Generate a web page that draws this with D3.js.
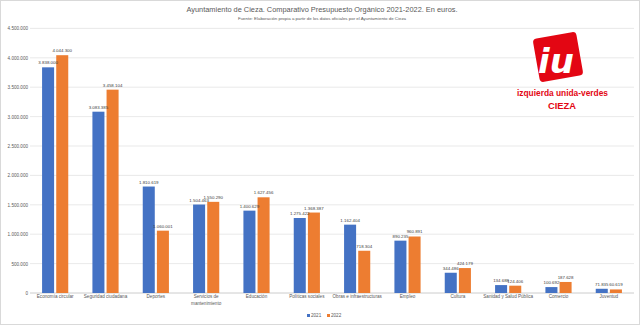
<!DOCTYPE html>
<html><head><meta charset="utf-8">
<script src="https://cdn.jsdelivr.net/npm/d3@7"></script>
<style>body{margin:0;background:#fff}svg{display:block}</style>
</head><body>
<script>
const categories = ["Economía circular","Seguridad ciudadana","Deportes","Servicios de mantenimiento","Educación","Políticas sociales","Obras e infraestructuras","Empleo","Cultura","Sanidad y Salud Pública","Comercio","Juventud"];
const values2021 = [3838000,3083385,1810619,1504463,1400629,1275422,1162404,890235,344486,134688,100692,71835];
const values2022 = [4044300,3458104,1060001,1550290,1627456,1368387,718304,960891,424179,124406,187628,60619];
const seriesNames = ["2021","2022"];
const yTicks = [0,500000,1000000,1500000,2000000,2500000,3000000,3500000,4000000,4500000];

const W=640,H=325;
const svg=d3.select("body").append("svg").attr("width",W).attr("height",H);
const font="'Liberation Sans', Arial, sans-serif";
const fmt=v=>d3.format(",")(v).replace(/,/g,".");

svg.append("rect").attr("x",0.5).attr("y",0.5).attr("width",W-1).attr("height",H-1).attr("fill","#fff").attr("stroke","#d9d9d9");

const x=d3.scaleBand().domain(categories).range([30,634]).paddingInner(0.48).paddingOuter(0.24);
const x1=d3.scaleBand().domain(seriesNames).range([0,x.bandwidth()]).paddingInner(0.15);
const y=d3.scaleLinear().domain([0,4500000]).range([293,28.4]);
const colors={"2021":"#4472C4","2022":"#ED7D31"};

// grid
svg.append("g").selectAll("line").data(yTicks).join("line")
 .attr("x1",30).attr("x2",634).attr("y1",d=>y(d)).attr("y2",d=>y(d))
 .attr("stroke",d=>d===0?"#bfbfbf":"#e3e3e3").attr("stroke-width",0.8);

// y labels
const ya=d3.axisLeft(y).tickValues(yTicks).tickFormat(fmt).tickSize(0).tickPadding(0);
const yg=svg.append("g").attr("transform","translate(28,0)").call(ya);
yg.select(".domain").remove();
yg.selectAll("text").attr("font-family",font).attr("font-size",4.6).attr("fill","#595959");

// bars
const data=categories.map((c,i)=>({c,vals:[{s:"2021",v:values2021[i]},{s:"2022",v:values2022[i]}]}));
const grp=svg.append("g").selectAll("g").data(data).join("g").attr("transform",d=>`translate(${x(d.c)},0)`);
grp.selectAll("rect").data(d=>d.vals).join("rect")
 .attr("x",d=>x1(d.s)).attr("width",x1.bandwidth())
 .attr("y",d=>y(d.v)).attr("height",d=>y(0)-y(d.v)).attr("fill",d=>colors[d.s]);
grp.selectAll("text").data(d=>d.vals).join("text")
 .attr("x",d=>x1(d.s)+x1.bandwidth()/2).attr("y",d=>y(d.v)-3)
 .attr("text-anchor","middle").attr("font-family",font).attr("font-size",4.4).attr("fill","#404040")
 .text(d=>fmt(d.v));

// x labels
const xa=d3.axisBottom(x).tickSize(0).tickPadding(0);
const xg=svg.append("g").attr("transform","translate(0,297)").call(xa);
xg.select(".domain").remove();
xg.selectAll("text").attr("font-family",font).attr("font-size",4.6).attr("fill","#595959").attr("dy","0.3em")
 .each(function(d){
   if(d==="Servicios de mantenimiento"){
     const t=d3.select(this).text(null);
     t.append("tspan").attr("x",0).attr("dy","0.3em").text("Servicios de");
     t.append("tspan").attr("x",0).attr("dy","1.4em").text("mantenimiento");
   }
 });

// title
svg.append("text").attr("x",322).attr("y",12).attr("text-anchor","middle").attr("font-family",font).attr("font-size",7.4).attr("fill","#595959")
 .text("Ayuntamiento de Cieza. Comparativo Presupuesto Orgánico 2021-2022. En euros.");
svg.append("text").attr("x",322).attr("y",20).attr("text-anchor","middle").attr("font-family",font).attr("font-size",4.4).attr("fill","#595959")
 .text("Fuente: Elaboración propia a partir de los datos oficiales por el Ayuntamiento de Cieza");

// legend
const lg=svg.append("g").attr("transform","translate(307,317)");
seriesNames.forEach((s,i)=>{
  const g=lg.append("g").attr("transform",`translate(${i*20},0)`);
  g.append("rect").attr("x",0).attr("y",-3).attr("width",3).attr("height",3).attr("fill",colors[s]);
  g.append("text").attr("x",4).attr("y",0).attr("font-family",font).attr("font-size",4.6).attr("fill","#595959").text(s);
});

// logo
const logo=svg.append("g");
logo.append("rect").attr("x",536).attr("y",35).attr("width",44).attr("height",44).attr("rx",4)
 .attr("fill","#E30613").attr("transform","rotate(-10,558,57)");
logo.append("text").attr("x",556).attr("y",73).attr("text-anchor","middle").attr("font-family","'DejaVu Sans', sans-serif")
 .attr("font-weight","bold").attr("font-style","italic").attr("font-size",34).attr("fill","#fff").text("iu");
logo.append("text").attr("x",517).attr("y",96).attr("font-family","'Liberation Sans',sans-serif")
 .attr("font-weight","bold").attr("font-size",9.5).attr("fill","#E30613")
 .attr("textLength",91).attr("lengthAdjust","spacingAndGlyphs").text("izquierda unida-verdes");
logo.append("text").attr("x",548).attr("y",109).attr("font-family","'Liberation Sans',sans-serif")
 .attr("font-weight","bold").attr("font-size",9.5).attr("fill","#E30613")
 .attr("textLength",28).attr("lengthAdjust","spacingAndGlyphs").text("CIEZA");
</script>
</body></html>
